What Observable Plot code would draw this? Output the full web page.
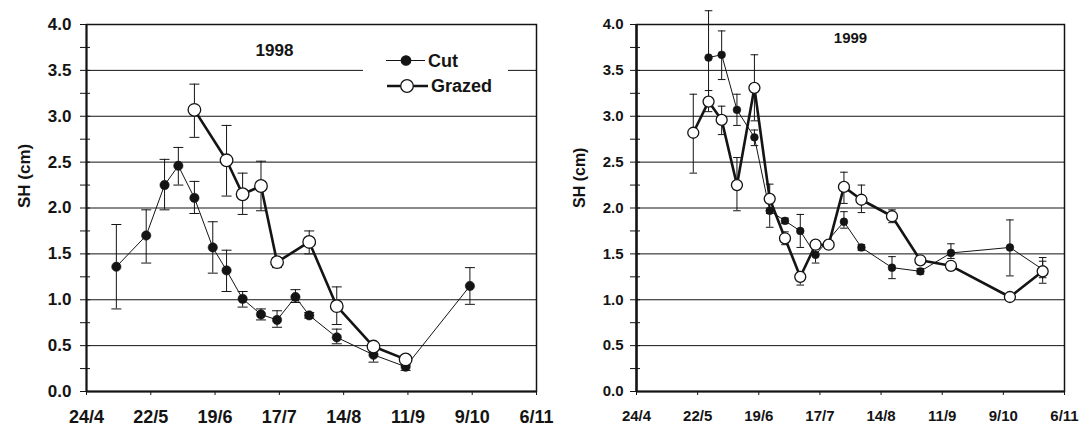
<!DOCTYPE html>
<html>
<head>
<meta charset="utf-8">
<script src="https://cdn.jsdelivr.net/npm/d3@7"></script>
<script src="https://cdn.jsdelivr.net/npm/@observablehq/plot@0.6"></script>
<style>
  html, body { margin: 0; padding: 0; background: #fff; }
  #wrap { position: relative; width: 1079px; height: 428px; overflow: hidden; background: #fff; }
  #left { position: absolute; left: 0; top: 0; z-index: 2; }
  #right { position: absolute; left: 540px; top: 0; z-index: 1; }
  svg { overflow: visible; }
</style>
</head>
<body>
<div id="wrap"><div id="left"></div><div id="right"></div></div>
<script>
// ---- data ----
const xTickLabels = ["24/4", "22/5", "19/6", "17/7", "14/8", "11/9", "9/10", "6/11"];
const yTicks = [0, 0.5, 1, 1.5, 2, 2.5, 3, 3.5, 4];
const yMinorTicks = [0, 0.25, 0.5, 0.75, 1, 1.25, 1.5, 1.75, 2, 2.25, 2.5, 2.75, 3, 3.25, 3.5, 3.75, 4];
const gridValues = [0.5, 1, 1.5, 2, 2.5, 3, 3.5];
const seriesNames = ["Cut", "Grazed"];
const panelTitles = ["1998", "1999"];
const yLabel = "SH (cm)";

// 1998
const cut98Dates = ["7/5", "20/5", "28/5", "3/6", "10/6", "18/6", "24/6", "1/7", "9/7", "16/7", "24/7", "30/7", "11/8", "27/8", "10/9", "8/10"];
const cut98SH    = [1.36, 1.70, 2.25, 2.46, 2.11, 1.57, 1.32, 1.01, 0.84, 0.78, 1.03, 0.83, 0.59, 0.40, 0.27, 1.15];
const cut98Hi    = [1.82, 1.98, 2.53, 2.66, 2.29, 1.85, 1.54, 1.09, 0.90, 0.88, 1.11, 0.86, 0.68, 0.45, 0.29, 1.35];
const cut98Lo    = [0.90, 1.40, 1.98, 2.25, 1.94, 1.29, 1.09, 0.92, 0.78, 0.70, 0.97, 0.80, 0.52, 0.32, 0.23, 0.95];

const grazed98Dates = ["10/6", "24/6", "1/7", "9/7", "16/7", "30/7", "11/8", "27/8", "10/9"];
const grazed98SH    = [3.07, 2.52, 2.15, 2.24, 1.41, 1.63, 0.93, 0.49, 0.35];
const grazed98Hi    = [3.35, 2.90, 2.38, 2.51, 1.46, 1.75, 1.14, 0.52, 0.37];
const grazed98Lo    = [2.77, 2.13, 1.93, 1.97, 1.35, 1.50, 0.73, 0.46, 0.33];

// 1999
const cut99Dates = ["27/5", "2/6", "9/6", "17/6", "24/6", "1/7", "8/7", "15/7", "28/7", "5/8", "19/8", "1/9", "15/9", "12/10", "27/10"];
const cut99SH    = [3.64, 3.67, 3.07, 2.77, 1.97, 1.86, 1.75, 1.49, 1.85, 1.57, 1.35, 1.31, 1.51, 1.57, 1.33];
const cut99Hi    = [4.15, 3.93, 3.24, 2.85, 2.10, 1.89, 1.93, 1.57, 1.96, 1.60, 1.47, 1.34, 1.61, 1.87, 1.42];
const cut99Lo    = [3.13, 3.40, 2.90, 2.68, 1.79, 1.83, 1.57, 1.40, 1.78, 1.54, 1.23, 1.28, 1.45, 1.26, 1.24];

const grazed99Dates = ["20/5", "27/5", "2/6", "9/6", "17/6", "24/6", "1/7", "8/7", "15/7", "21/7", "28/7", "5/8", "19/8", "1/9", "15/9", "12/10", "27/10"];
const grazed99SH    = [2.82, 3.16, 2.96, 2.25, 3.31, 2.10, 1.67, 1.25, 1.60, 1.60, 2.23, 2.09, 1.91, 1.43, 1.37, 1.03, 1.31];
const grazed99Hi    = [3.24, 3.28, 3.11, 2.55, 3.67, 2.26, 1.74, 1.29, 1.63, 1.63, 2.39, 2.25, 1.98, 1.46, 1.41, 1.05, 1.46];
const grazed99Lo    = [2.38, 3.05, 2.80, 1.97, 2.95, 1.94, 1.60, 1.16, 1.57, 1.57, 2.05, 1.95, 1.84, 1.40, 1.33, 1.01, 1.18];

// ---- helpers ----
const parse = d3.utcParse("%d/%m/%Y");
const toDate = (s, year) => parse(`${s}/${year}`);
const rows = (dates, sh, hi, lo, year) =>
  dates.map((d, i) => ({date: toDate(d, year), sh: sh[i], hi: hi[i], lo: lo[i]}));

const INK = "#141414";
const capSymbol = {draw(ctx, size) { const w = Math.sqrt(size); ctx.moveTo(-w, 0); ctx.lineTo(w, 0); }};

function panel(o) {
  const ticks = xTickLabels.map(s => toDate(s, o.year));
  const labelMap = new Map(ticks.map((t, i) => [+t, xTickLabels[i]]));
  const cut = rows(o.cut[0], o.cut[1], o.cut[2], o.cut[3], o.year);
  const graz = rows(o.graz[0], o.graz[1], o.graz[2], o.graz[3], o.year);
  const capR = o.capHalf / Math.sqrt(Math.PI);
  const errMarks = (data) => [
    Plot.ruleX(data, {x: "date", y1: "lo", y2: "hi", stroke: INK, strokeWidth: 1}),
    Plot.dot(data, {x: "date", y: "hi", symbol: capSymbol, r: capR, stroke: INK, fill: "none", strokeWidth: 1}),
    Plot.dot(data, {x: "date", y: "lo", symbol: capSymbol, r: capR, stroke: INK, fill: "none", strokeWidth: 1})
  ];
  const chart = Plot.plot({
    width: o.width, height: 428,
    marginLeft: o.ml, marginRight: o.mr, marginTop: 24, marginBottom: 37,
    style: {fontFamily: "'Liberation Sans', Arial, sans-serif", fontWeight: "bold", color: INK, background: "transparent", overflow: "visible"},
    x: {type: "utc", domain: [ticks[0], ticks[ticks.length - 1]]},
    y: {domain: [0, 4]},
    marks: [
      Plot.ruleY(gridValues, {stroke: INK, strokeWidth: 1}),
      Plot.frame({stroke: INK, strokeWidth: 1.5}),
      Plot.ruleX([ticks[0]], {stroke: INK, strokeWidth: o.axisW}),
      Plot.ruleY([0], {stroke: INK, strokeWidth: 2}),
      Plot.axisY({ticks: yMinorTicks, tickSize: 10, dx: 4, tickFormat: () => "", label: null, stroke: INK}),
      Plot.axisY({ticks: yTicks, tickSize: 0, tickPadding: o.yPad, tickFormat: d3.format(".1f"), label: null, fontSize: o.fs, fontWeight: "bold", fill: INK}),
      Plot.axisX({ticks, tickSize: 4, tickPadding: 15, tickFormat: d => labelMap.get(+d), label: null, fontSize: o.fsx, fontWeight: "bold", fill: INK, stroke: INK}),
      Plot.text([yLabel], {text: d => d, frameAnchor: "left", dx: o.labelDx, rotate: -90, fontSize: o.fsLabel, fontWeight: "bold", fill: INK}),
      Plot.text([o.title], {text: d => d, frameAnchor: "top", lineAnchor: "middle", dx: o.titleDx, dy: o.titleDy, fontSize: o.fsTitle, fontWeight: "bold", fill: INK}),
      ...errMarks(cut),
      ...errMarks(graz),
      Plot.line(cut, {x: "date", y: "sh", stroke: INK, strokeWidth: 1}),
      Plot.dot(cut, {x: "date", y: "sh", r: o.rCut, fill: INK, stroke: INK, strokeWidth: 0.5}),
      Plot.line(graz, {x: "date", y: "sh", stroke: INK, strokeWidth: 2.6}),
      Plot.dot(graz, {x: "date", y: "sh", r: o.rGraz, fill: "white", stroke: INK, strokeWidth: 1.3})
    ]
  });
  return chart;
}

const left = panel({
  year: 1998, width: 540, ml: 86, mr: 4, fs: 17, fsx: 18, fsLabel: 17, fsTitle: 17, yPad: 15, axisW: 2,
  labelDx: -62, title: panelTitles[0], titleDx: -37, titleDy: 26,
  rCut: 4.7, rGraz: 6.3, capHalf: 5,
  cut: [cut98Dates, cut98SH, cut98Hi, cut98Lo],
  graz: [grazed98Dates, grazed98SH, grazed98Hi, grazed98Lo]
});
const right = panel({
  year: 1999, width: 539, ml: 96, mr: 15, fs: 15, fsx: 15, fsLabel: 16, fsTitle: 15, yPad: 13, axisW: 2.5,
  labelDx: -57, title: panelTitles[1], titleDx: 0, titleDy: 14,
  rCut: 3.9, rGraz: 5.5, capHalf: 3.8,
  cut: [cut99Dates, cut99SH, cut99Hi, cut99Lo],
  graz: [grazed99Dates, grazed99SH, grazed99Hi, grazed99Lo]
});
document.getElementById("left").appendChild(left);
document.getElementById("right").appendChild(right);

// legend (left panel)
const lg = d3.select(left).append("g")
  .attr("font-family", "'Liberation Sans', Arial, sans-serif")
  .attr("font-weight", "bold")
  .attr("text-anchor", "start");
lg.append("rect").attr("x", 363).attr("y", 42).attr("width", 145).attr("height", 56).attr("fill", "white");
const legendRows = [
  {name: seriesNames[0], y: 60.5, x1: 386, x2: 425, cx: 406, r: 4.7, fill: INK, sw: 1, tx: 428},
  {name: seriesNames[1], y: 86, x1: 387, x2: 428, cx: 407, r: 6.3, fill: "white", sw: 2.6, tx: 431}
];
legendRows.forEach(r => {
  lg.append("line").attr("x1", r.x1).attr("x2", r.x2).attr("y1", r.y).attr("y2", r.y).attr("stroke", INK).attr("stroke-width", r.sw);
  lg.append("circle").attr("cx", r.cx).attr("cy", r.y).attr("r", r.r).attr("fill", r.fill).attr("stroke", INK).attr("stroke-width", 1.3);
  lg.append("text").attr("x", r.tx).attr("y", r.y).attr("dy", "0.36em").attr("font-size", 18).attr("fill", INK).attr("text-anchor", "start").text(r.name);
});
</script>
</body>
</html>
